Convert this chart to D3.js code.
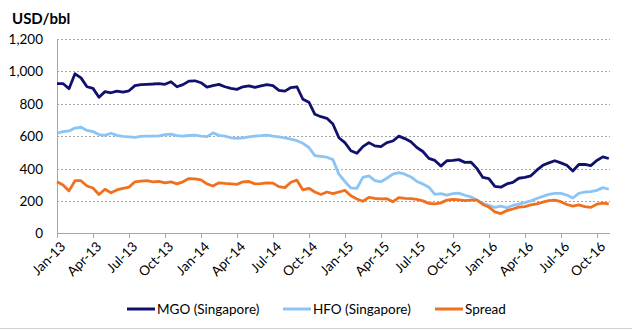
<!DOCTYPE html>
<meta charset="utf-8">
<script src="https://cdn.jsdelivr.net/npm/d3@7"></script>
<style>
body { margin: 0; background: #fff; }
text { font-family: Lato, "Open Sans", sans-serif; fill: #000; }
.grid line { stroke: #a6a6a6; stroke-dasharray: 2,2; }
</style>
<body>
<script>

// half-month steps starting Jan-13 (index 0 = start of Jan 2013)
var mgo = [925, 925, 893, 985, 960, 905, 895, 840, 875, 868, 878, 872, 880, 912, 918, 920,
  922, 925, 920, 936, 905, 918, 940, 942, 930, 903, 912, 920, 905, 895, 889, 905,
  910, 901, 910, 918, 912, 883, 878, 900, 905, 828, 810, 735, 720, 710, 675, 590,
  560, 510, 494, 535, 560, 540, 535, 560, 570, 600, 585, 565, 530, 505, 463, 450,
  415, 448, 450, 455, 438, 440, 401, 345, 338, 290, 285, 305, 315, 340, 345, 355,
  390, 420, 435, 448, 435, 420, 385, 425, 426, 418, 450, 472, 462];

var hfo = [618, 628, 632, 650, 655, 635, 628, 610, 605, 618, 605, 598, 596, 592, 598, 600,
  600, 602, 610, 612, 603, 600, 604, 606, 600, 597, 620, 605, 600, 590, 586, 590,
  595, 600, 603, 607, 600, 595, 590, 582, 572, 556, 530, 480, 475, 470, 455, 365,
  320, 280, 278, 345, 355, 325, 318, 340, 365, 375, 365, 348, 320, 305, 285, 240,
  245, 236, 245, 248, 235, 225, 206, 185, 172, 160, 168, 158, 172, 180, 190, 200,
  215, 228, 240, 247, 246, 236, 218, 246, 255, 257, 265, 282, 272];

var spread = [318, 298, 262, 325, 325, 292, 280, 240, 272, 250, 268, 278, 285, 318, 322, 325,
  318, 320, 312, 318, 305, 318, 338, 336, 330, 305, 292, 312, 308, 305, 302, 318,
  320, 305, 307, 312, 310, 288, 282, 315, 328, 268, 278, 255, 240, 255, 245, 255,
  265, 232, 212, 198, 222, 215, 212, 214, 195, 220, 216, 214, 210, 200, 185, 182,
  188, 205, 210, 206, 202, 205, 205, 178, 162, 132, 122, 140, 150, 162, 165, 175,
  182, 192, 202, 205, 195, 178, 168, 175, 165, 160, 180, 186, 182];

var tickLabels = ["Jan-13", "Apr-13", "Jul-13", "Oct-13", "Jan-14", "Apr-14", "Jul-14", "Oct-14",
  "Jan-15", "Apr-15", "Jul-15", "Oct-15", "Jan-16", "Apr-16", "Jul-16", "Oct-16"];
var yTicks = [0, 200, 400, 600, 800, 1000, 1200];
var seriesNames = ["MGO (Singapore)", "HFO (Singapore)", "Spread"];
var colors = ["#10106e", "#8cc4f4", "#f0701e"];

var width = 632, height = 330;
var plotL = 57, plotR = 610, plotT = 39, plotB = 233.3;

var svg = d3.select("body").append("svg")
    .attr("width", width)
    .attr("height", height);

var x = d3.scaleLinear().domain([0, 46.1]).range([plotL, plotR]);
var y = d3.scaleLinear().domain([0, 1200]).range([plotB, plotT]);

// grid
svg.append("g").attr("class", "grid")
  .selectAll("line")
  .data(yTicks.slice(1))
  .enter().append("line")
    .attr("x1", plotL).attr("x2", plotR)
    .attr("y1", d => Math.round(y(d)) + 0.5).attr("y2", d => Math.round(y(d)) + 0.5);

// y labels
svg.append("g").selectAll("text")
  .data(yTicks)
  .enter().append("text")
    .attr("x", 43)
    .attr("y", d => y(d) + 5)
    .attr("text-anchor", "end")
    .style("font-size", "13.5px")
    .text(d => d3.format(",")(d));

svg.append("text")
    .attr("x", 12).attr("y", 24)
    .style("font-size", "15px")
    .style("font-weight", "bold")
    .text("USD/bbl");

// axis lines
svg.append("line")
    .attr("x1", plotL + 0.5).attr("x2", plotL + 0.5)
    .attr("y1", plotT).attr("y2", plotB)
    .attr("stroke", "#a6a6a6");
svg.append("line")
    .attr("x1", plotL).attr("x2", plotR)
    .attr("y1", Math.round(plotB) + 0.5).attr("y2", Math.round(plotB) + 0.5)
    .attr("stroke", "#a6a6a6");

var xt = svg.append("g").selectAll("g")
  .data(tickLabels)
  .enter().append("g")
    .attr("transform", (d, i) => "translate(" + Math.round(x(i * 3)) + "," + Math.round(plotB) + ")");
xt.append("line")
    .attr("x1", 0.5).attr("x2", 0.5)
    .attr("y1", 0).attr("y2", 5)
    .attr("stroke", "#a6a6a6");
xt.append("text")
    .attr("transform", "translate(6,11) rotate(-45)")
    .attr("text-anchor", "end")
    .attr("dy", "0.35em")
    .style("font-size", "13.5px")
    .text(d => d);

// series lines
var line = d3.line()
    .x((d, i) => x(i * 0.5))
    .y(d => y(d));

[mgo, hfo, spread].forEach(function(s, k) {
  svg.append("path")
      .datum(s)
      .attr("d", line)
      .attr("fill", "none")
      .attr("stroke", colors[k])
      .attr("stroke-width", 2.8)
      .attr("stroke-linejoin", "round");
});

// legend
var legX = [127, 283, 435];
var leg = svg.append("g").selectAll("g")
  .data(seriesNames)
  .enter().append("g")
    .attr("transform", (d, i) => "translate(" + legX[i] + ",309)");
leg.append("line")
    .attr("x1", 0).attr("x2", 28)
    .attr("stroke", (d, i) => colors[i])
    .attr("stroke-width", 3);
leg.append("text")
    .attr("x", 30).attr("y", 5)
    .style("font-size", "13.5px")
    .text(d => d);

svg.append("line")
    .attr("x1", 0).attr("x2", width)
    .attr("y1", 328.5).attr("y2", 328.5)
    .attr("stroke", "#d0d0d0");

</script>
</body>
